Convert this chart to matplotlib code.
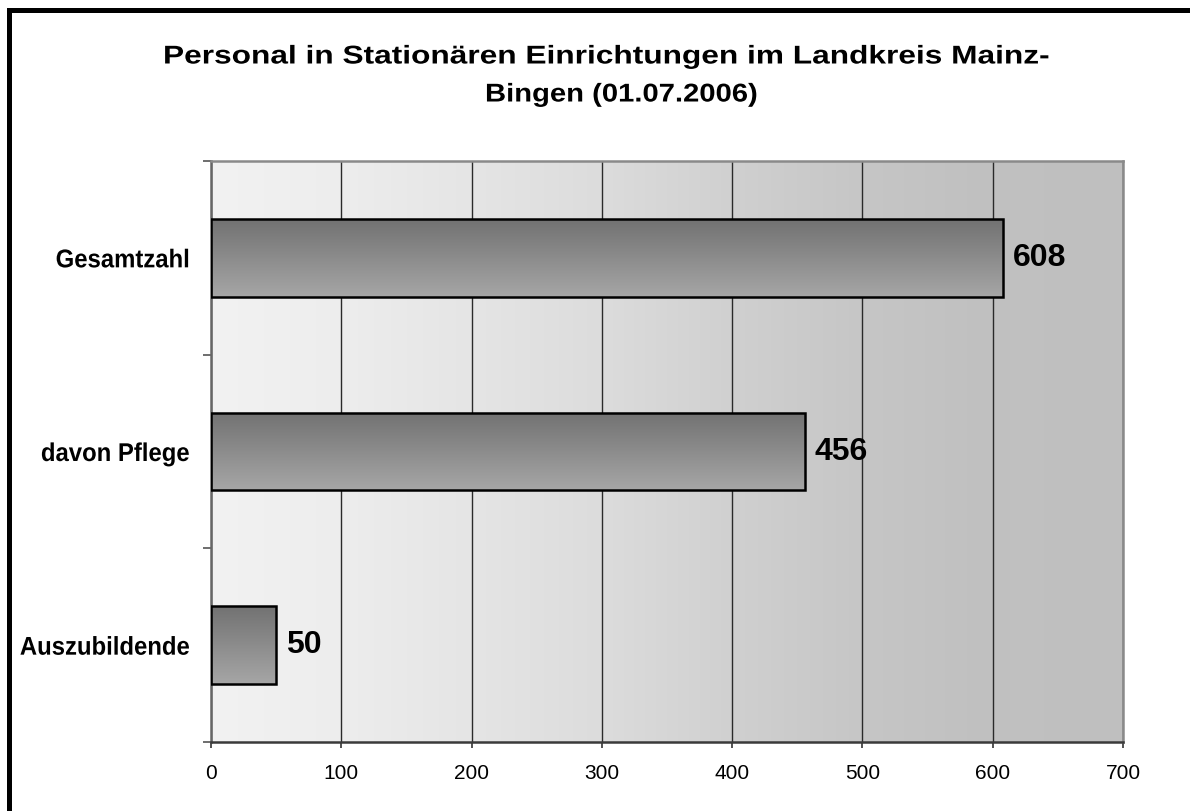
import numpy as np
import matplotlib
matplotlib.use("Agg")
import matplotlib.pyplot as plt
from matplotlib import font_manager
from matplotlib.lines import Line2D
from matplotlib.patheffects import AbstractPathEffect
from matplotlib.transforms import Affine2D

# ---- data ----
categories = ["Gesamtzahl", "davon Pflege", "Auszubildende"]
values = [608, 456, 50]
x_ticks = [0, 100, 200, 300, 400, 500, 600, 700]
title_line1 = "Personal in Stationären Einrichtungen im Landkreis Mainz-"
title_line2 = "Bingen (01.07.2006)"

# ---- fonts ----
def has_font(name):
    try:
        font_manager.findfont(name, fallback_to_default=False)
        return True
    except Exception:
        return False

base_font = "Liberation Sans" if has_font("Liberation Sans") else "DejaVu Sans"
plt.rcParams['font.family'] = [base_font, "DejaVu Sans"]


class StretchX(AbstractPathEffect):
    """Draw text glyphs scaled horizontally about a fixed pixel x."""
    def __init__(self, sx, x0):
        super().__init__()
        self.sx = sx
        self.x0 = x0

    def draw_path(self, renderer, gc, tpath, affine, rgbFace=None):
        t = affine + Affine2D().translate(-self.x0, 0).scale(self.sx, 1.0).translate(self.x0, 0)
        renderer.draw_path(gc, tpath, t, rgbFace)


W, H = 1190, 811
fig = plt.figure(figsize=(W / 100, H / 100), dpi=100)
fig.patch.set_facecolor("white")

# plot area
L, R, T, B = 211, 1123, 161, 742
ax = fig.add_axes([L / W, 1 - B / H, (R - L) / W, (B - T) / H])

n = len(categories)
ypos = np.arange(n)

# background horizontal gradient
stops_x = np.array([0, 100, 200, 300, 400, 500, 580, 700])
stops_c = np.array([0xf2, 0xed, 0xe5, 0xdc, 0xd0, 0xc6, 0xc1, 0xbf]) / 255.0
xs = np.linspace(0, 700, 700)
g = np.interp(xs, stops_x, stops_c)
bg = np.stack([g, g, g], axis=-1)[np.newaxis, :, :].repeat(2, axis=0)
ax.imshow(bg, extent=(0, 700, n - 0.5, -0.5), aspect="auto", zorder=0,
          interpolation="bilinear")

# gridlines
ax.set_xticks(x_ticks)
ax.xaxis.grid(True, color="#2a2a2a", linewidth=1.0)
ax.set_axisbelow(True)
for gl in ax.get_xgridlines():
    gl.set_zorder(0.5)

# bars with vertical gradient
bar_h = 0.40
bars = ax.barh(ypos, values, height=bar_h, facecolor="none",
               edgecolor="black", linewidth=1.8, zorder=3)
grad = np.linspace(0x72, 0xa6, 100) / 255.0
grad_img = np.stack([grad, grad, grad], axis=-1)[:, np.newaxis, :].repeat(2, axis=1)
for rect, v, y in zip(bars, values, ypos):
    im = ax.imshow(grad_img, extent=(0, v, y + bar_h / 2, y - bar_h / 2),
                   aspect="auto", zorder=2, interpolation="bilinear")
    im.set_clip_path(rect)
    ax.annotate(str(v), xy=(v, y), xytext=(7, 0), textcoords="offset points",
                ha="left", va="center", fontsize=23, fontweight="bold",
                color="black", zorder=4)
ax.set_xlim(0, 700)
ax.set_ylim(n - 0.5, -0.5)

# y axis: category labels + boundary ticks
ax.set_yticks(ypos)
ax.set_yticklabels(categories)
ax.tick_params(axis="y", which="major", length=0, pad=15)
for lab in ax.get_yticklabels():
    lab.set_fontweight("bold")
    lab.set_fontsize(18.5)
ax.set_yticks(np.arange(-0.5, n, 1.0), minor=True)
ax.tick_params(axis="y", which="minor", length=5.8, width=1.2, color="#555555",
               direction="out")

# x axis
ax.tick_params(axis="x", which="major", length=4.3, width=1.2, color="#333333",
               direction="out", labelsize=15, pad=11.5)

# spines
ax.spines["left"].set_color("#666666")
ax.spines["left"].set_linewidth(1.8)
ax.spines["bottom"].set_color("#3a3a3a")
ax.spines["bottom"].set_linewidth(1.8)
ax.spines["top"].set_color("#8a8a8a")
ax.spines["top"].set_linewidth(1.8)
ax.spines["right"].set_color("#8a8a8a")
ax.spines["right"].set_linewidth(1.8)

# title (two lines), stretched horizontally to the reference widths
t1_span = (163, 1052)
t2_span = (485, 758)
t1 = fig.text((t1_span[0] + t1_span[1]) / 2 / W, 1 - 63.5 / H, title_line1,
              ha="center", va="baseline", fontsize=18.5, fontweight="bold")
t2 = fig.text((t2_span[0] + t2_span[1]) / 2 / W, 1 - 101.5 / H, title_line2,
              ha="center", va="baseline", fontsize=18.5, fontweight="bold")

# figure border (left and top visible)
lw = 5 * 72 / 100
fig.add_artist(Line2D([9.3 / W, 9.3 / W], [1 - 9.8 / H, -0.1], color="black",
                      linewidth=lw, transform=fig.transFigure, solid_capstyle="projecting"))
fig.add_artist(Line2D([9.3 / W, 1.1], [1 - 9.8 / H, 1 - 9.8 / H], color="black",
                      linewidth=lw, transform=fig.transFigure, solid_capstyle="projecting"))

# apply horizontal stretching after a first layout pass
fig.canvas.draw()
renderer = fig.canvas.get_renderer()
for txt, span in ((t1, t1_span), (t2, t2_span)):
    bb = txt.get_window_extent(renderer)
    sx = (span[1] - span[0]) / bb.width
    txt.set_path_effects([StretchX(sx, (bb.x0 + bb.x1) / 2)])

label_sx = 0.93
for lab in ax.get_yticklabels():
    bb = lab.get_window_extent(renderer)
    lab.set_path_effects([StretchX(label_sx, bb.x1)])

fig.savefig("out.png", dpi=100)
